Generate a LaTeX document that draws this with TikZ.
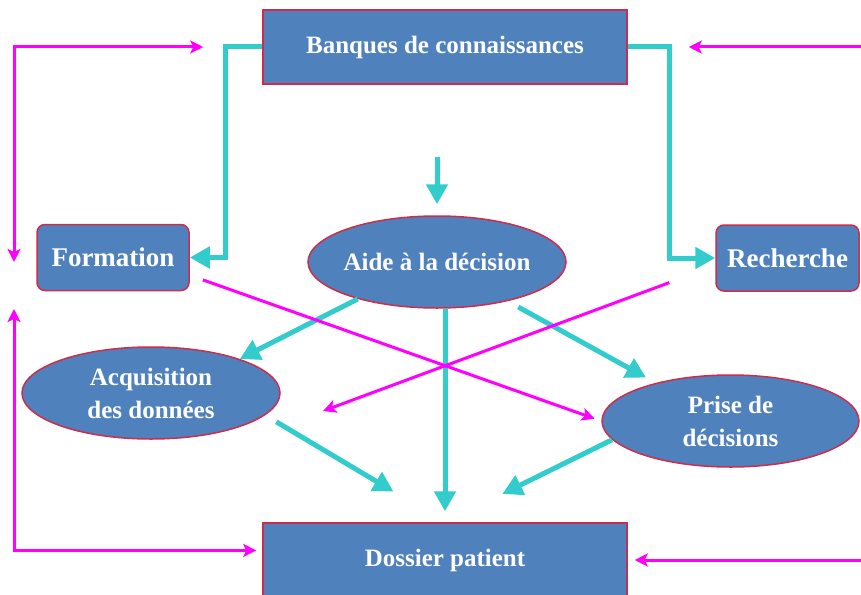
\documentclass[tikz,border=0pt]{standalone}
\usepackage{fontspec}
\setmainfont{Liberation Serif}
\usepackage{xcolor}
\usepackage{tikz}
\usetikzlibrary{shapes.geometric, arrows.meta}

\definecolor{boxblue}{RGB}{79,129,189}
\definecolor{boxedge}{RGB}{205,45,75}
\definecolor{flowcyan}{RGB}{51,204,204}
\definecolor{linkpink}{RGB}{255,0,255}

\tikzset{pinktip/.tip={Stealth[length=13pt,width=13pt,inset=3pt]}}

\begin{document}
\begin{tikzpicture}[
    x=1pt, y=-1pt,
    every node/.style={font=\bfseries\fontsize{25}{33}\selectfont, text=white},
    bank/.style={rectangle, draw=boxedge, fill=boxblue, line width=1.5pt, minimum width=364pt, minimum height=74pt, inner sep=0pt},
    side/.style={rectangle, rounded corners=8pt, draw=boxedge, fill=boxblue, line width=1.5pt, minimum height=66pt, inner sep=0pt, font=\bfseries\fontsize{27}{30}\selectfont},
    bubble/.style={ellipse, draw=boxedge, fill=boxblue, line width=1.5pt, minimum width=258pt, minimum height=92pt, inner sep=0pt, align=center},
    flow/.style={draw=flowcyan, line width=5pt, -{Triangle[width=21pt,length=20pt]}},
    link/.style={draw=linkpink, line width=3pt, -pinktip}
]
\useasboundingbox (0,0) rectangle (861,594);

% Boxes
\node[bank] (banques) at (445,47) {Banques de connaissances};
\node[bank] (dossier) at (445,560) {Dossier patient};
\node[side, minimum width=152pt] (formation) at (113,257.5) {Formation};
\node[side, minimum width=143pt] (recherche) at (787.5,258) {Recherche};

% Ellipses
\node[bubble, inner xsep=-3pt] (aide) at (437,262) {Aide à la décision};
\node[bubble] (acq) at (151,393) {Acquisition\\des données};
\node[bubble, minimum width=257pt] (prise) at (730.5,421) {Prise de\\décisions};

% Free ends
\coordinate (feed) at (437,157);
\coordinate (ltc) at (14,262);
\coordinate (lbc) at (14,309);
\coordinate (rtc) at (861,47);
\coordinate (rbc) at (861,560);
\coordinate (rechend) at (323,411);

% Cyan flows
\draw[flow] (banques.west) -- ++(-37,0) |- (formation.east);
\draw[flow] (banques.east) -- ++(42,0) |- (recherche.west);
\draw[flow, shorten >=11pt] (feed) -- (aide.north);
\draw[flow] (aide.205) -- (acq.21);
\draw[flow, shorten <=12pt, shorten >=11pt] (aide.-29) -- (prise.153);
\draw[flow, shorten >=11pt] (aide.south -| dossier.north) -- (dossier.north);
\draw[flow, shorten <=13pt, shorten >=60pt] (acq.-11) -- (dossier.north);
\draw[flow, shorten >=64pt] (prise.189) -- (dossier.north);

% Magenta links
\draw[link, pinktip-pinktip, shorten >=59pt] (ltc) |- (banques.west);
\draw[link, pinktip-pinktip, shorten >=6pt] (lbc) |- (dossier.177);
\draw[link, shorten >=61pt] (rtc) -- (banques.east);
\draw[link, shorten >=7pt] (rbc) -- (dossier.east);
\draw[link, shorten <=14pt, shorten >=7pt] (formation.-13) -- (prise.west);
\draw[link, shorten <=49pt] (recherche.186) -- (rechend);

\end{tikzpicture}
\end{document}
